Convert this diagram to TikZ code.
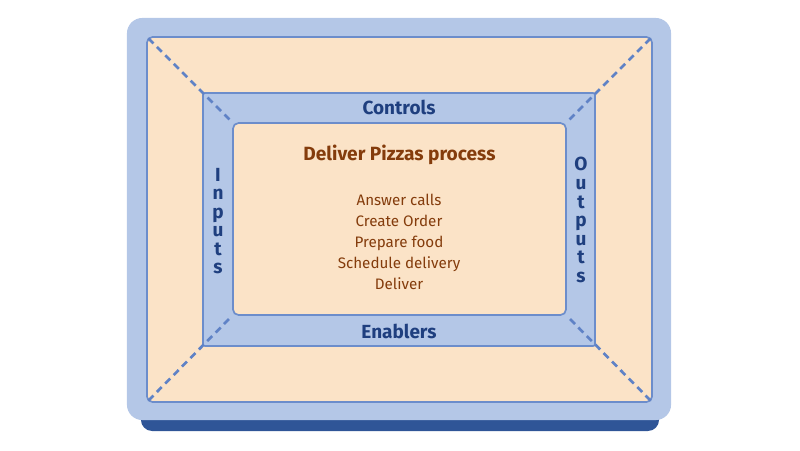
\documentclass[tikz,border=0pt]{standalone}
\usepackage{fontspec}
\setmainfont{Fira Sans}

\definecolor{paneblue}{HTML}{B4C7E7}
\definecolor{peach}{HTML}{FBE3C7}
\definecolor{edgeblue}{HTML}{6C8DCB}
\definecolor{dashblue}{HTML}{5F82C6}
\definecolor{shadowblue}{HTML}{2F5597}
\definecolor{labelblue}{HTML}{1F3F7F}
\definecolor{taskred}{HTML}{843C0C}

\begin{document}
\begin{tikzpicture}[x=0.025cm, y=-0.025cm,
        panel/.style={draw=edgeblue, line width=1.2pt, rounded corners=4pt, inner sep=0pt, outer sep=0pt},
        sidetext/.style={text=labelblue, font=\bfseries\fontsize{13.5}{13.2}\selectfont, align=center},
        tasklist/.style={text=taskred, font=\fontsize{10.8}{15}\selectfont, align=center},
        diag/.style={draw=dashblue, line width=1.9pt, dash pattern=on 5pt off 3.5pt, shorten <=1.5pt, shorten >=1pt}]

        \useasboundingbox (0,0) rectangle (800,450);

        % Nodes
        \node [fill=shadowblue, rounded corners=8pt, minimum width=12.95cm, minimum height=1cm, inner sep=0pt] (shadow) at (400,411) {};
        \node [fill=paneblue, rounded corners=11pt, minimum width=13.6cm, minimum height=10.05cm, inner sep=0pt] (outer) at (399,219) {};
        \node [panel, fill=peach, minimum width=12.625cm, minimum height=9.125cm] (field) at (399.5,219.5) {};
        \node [panel, fill=paneblue, rounded corners=1.5pt, minimum width=9.8cm, minimum height=6.325cm] (frame) at (399,219.5) {};
        \node [panel, fill=peach, minimum width=8.325cm, minimum height=4.8cm] (core) at (399.5,219) {};

        % Labels
        \node [sidetext] (controls) at (399,107) {Controls};
        \node [sidetext] (enablers) at (399,331) {Enablers};
        \node [sidetext] (inputs) at (218,221) {I\\n\\p\\u\\t\\s};
        \node [sidetext] (outputs) at (581,220) {O\\u\\t\\p\\u\\t\\s};
        \node [text=taskred, font=\bfseries\fontsize{13.6}{15}\selectfont] (title) at (399.5,155) {Deliver Pizzas process};
        \node [tasklist] (tasks) at (399,242) {Answer calls\\Create Order\\Prepare food\\Schedule delivery\\Deliver};

        % Diagonals
        \draw [diag] (field.north west) -- (core.north west);
        \draw [diag] (field.north east) -- (core.north east);
        \draw [diag] (field.south west) -- (core.south west);
        \draw [diag] (field.south east) -- (core.south east);
\end{tikzpicture}
\end{document}
